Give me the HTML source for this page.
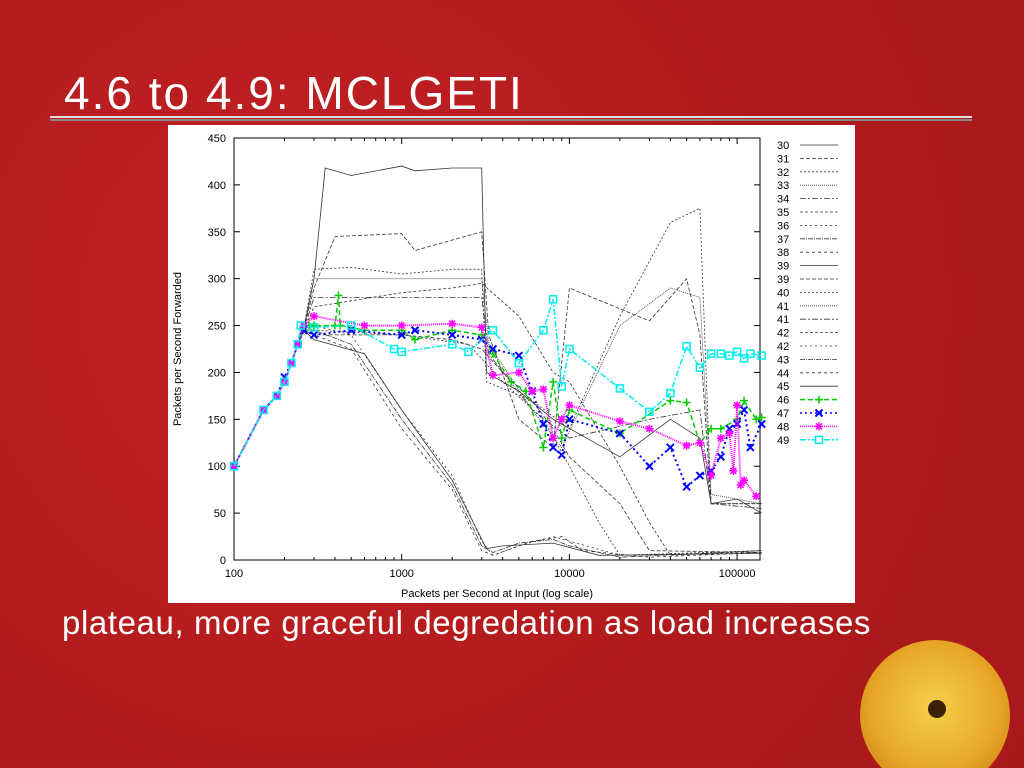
<!DOCTYPE html>
<html><head><meta charset="utf-8"><style>
html,body{margin:0;padding:0;width:1024px;height:768px;overflow:hidden}
body{position:relative;background:#b81c1e;
background-image:radial-gradient(circle at 30% 40%,#c42224 0,#b01a1c 60%,#a8181a 100%);}
.t{position:absolute;color:#fff;font-family:"Comic Sans MS","Liberation Sans",sans-serif;white-space:nowrap}
</style></head><body>
<div class="t" style="left:64px;top:66px;font-size:46px;letter-spacing:2px">4.6 to 4.9: MCLGETI</div>
<div style="position:absolute;left:50px;top:116px;width:922px;height:2px;background:#ddd;"></div>
<div style="position:absolute;left:50px;top:119px;width:922px;height:2px;background:#888;"></div>
<div class="t" style="left:62px;top:604px;font-size:33px;letter-spacing:0.6px">plateau, more graceful degredation as load increases</div>
<div style="position:absolute;left:0;top:0;width:1024px;height:768px;overflow:hidden">
<div style="position:absolute;left:860px;top:640px;width:150px;height:150px;border-radius:50%;background:radial-gradient(circle at 50% 45%,#f4d04a 0,#e8a828 55%,#c07010 100%)"></div>
<div style="position:absolute;left:928px;top:700px;width:18px;height:18px;border-radius:50%;background:#3a2208"></div>
</div>
<svg style="position:absolute;left:0;top:0" width="1024" height="768" id="s">
<rect x="168" y="125" width="687" height="478" fill="#fff"/>
<rect x="234" y="138" width="526" height="422" fill="none" stroke="#000" stroke-width="1"/>
<g id="g" font-family="Liberation Sans,sans-serif" font-size="11"></g>
</svg>
<script>
var g=document.getElementById('g'),NS='http://www.w3.org/2000/svg';
function px(x){return 234+(Math.log10(x)-2)*167.7}
function py(y){return 560-y*0.9378}
function el(t,a,txt){var e=document.createElementNS(NS,t);for(var k in a)e.setAttribute(k,a[k]);if(txt!=null)e.textContent=txt;g.appendChild(e);return e}
for(var y=0;y<=450;y+=50){el('line',{x1:234,x2:240,y1:py(y),y2:py(y),stroke:'#000'});el('line',{x1:754,x2:760,y1:py(y),y2:py(y),stroke:'#000'});el('text',{x:226,y:py(y)+4,'text-anchor':'end'},y)}
for(var d=2;d<=5;d++){for(var m=1;m<10;m++){var v=m*Math.pow(10,d);if(v>140000)break;var X=px(v),L=m==1?6:3;el('line',{x1:X,x2:X,y1:560,y2:560-L,stroke:'#000'});el('line',{x1:X,x2:X,y1:138,y2:138+L,stroke:'#000'})}
el('text',{x:px(Math.pow(10,d)),y:577,'text-anchor':'middle'},Math.pow(10,d))}
el('text',{x:497,y:597,'text-anchor':'middle'},'Packets per Second at Input (log scale)');
el('text',{x:181,y:349,'text-anchor':'middle',transform:'rotate(-90 181 349)'},'Packets per Second Forwarded');
function line(d,col,dash,w){var p=d.map(function(q){return px(q[0]).toFixed(1)+','+py(q[1]).toFixed(1)}).join(' ');el('polyline',{points:p,fill:'none',stroke:col,'stroke-width':w||1,'stroke-dasharray':dash||''})}
var base=[[100,100],[150,160],[180,175],[200,190],[220,210],[240,230],[260,245]];
var blk=[
 base.concat([[300,300],[350,418],[500,410],[1000,420],[1200,415],[2000,418],[3000,418],[3200,200],[5000,180],[8000,150],[20000,110],[40000,150],[60000,130],[70000,60],[100000,65],[140000,50]]),
 base.concat([[300,290],[400,345],[1000,348],[1200,330],[3000,350],[3300,240],[5000,150],[8000,120],[10000,290],[30000,255],[50000,300],[60000,240],[70000,60],[140000,60]]),
 base.concat([[300,310],[500,312],[1000,305],[2000,310],[3000,310],[3200,190],[6000,170],[10000,140],[20000,260],[40000,360],[60000,375],[70000,60],[140000,60]]),
 base.concat([[300,300],[1000,300],[3000,300],[3300,230],[6000,160],[9000,120],[20000,250],[40000,290],[60000,280],[70000,70],[140000,60]]),
 base.concat([[300,280],[1000,280],[3000,280],[3300,220],[6000,160],[10000,130],[30000,150],[60000,160],[70000,60],[140000,55]]),
 base.concat([[300,270],[1000,285],[2000,290],[3000,295],[5000,260],[8000,200],[10000,190],[20000,100],[30000,40],[40000,5],[140000,10]]),
 base.concat([[300,250],[500,240],[1000,160],[2000,90],[3000,20],[3500,5],[5000,15],[8000,25],[10000,20],[20000,5],[140000,8]]),
 base.concat([[300,245],[500,230],[1000,150],[2000,80],[3000,15],[3500,8],[5000,18],[8000,22],[10000,15],[20000,3],[140000,10]]),
 base.concat([[300,240],[500,225],[1000,140],[2000,75],[3000,10],[3500,5],[6000,20],[9000,25],[12000,10],[30000,3],[140000,8]]),
 base.concat([[300,235],[600,220],[1000,160],[2000,85],[3200,12],[4000,15],[8000,18],[15000,5],[140000,7]]),
 base.concat([[300,240],[1000,240],[2000,235],[3000,225],[4000,200],[6000,170],[8000,140],[10000,110],[20000,60],[30000,10],[140000,8]]),
 base.concat([[300,245],[1000,240],[2500,230],[4000,190],[7000,150],[10000,100],[15000,40],[20000,5],[140000,10]])];
var ds=['','4 2','2 2','1 1','6 2 2 2','3 2','2 3','5 1 1 1','3 3','','4 2','2 2'];
blk.forEach(function(d,i){line(d,'#333',ds[i],0.8)});
var G=[[100,100],[150,160],[180,175],[200,190],[220,210],[240,230],[260,245],[280,250],[300,250],[400,250],[420,282],[430,250],[600,245],[1000,245],[1200,235],[2000,245],[3000,240],[3500,220],[4500,190],[5500,180],[7000,120],[8000,190],[9000,130],[10000,160],[20000,135],[40000,170],[50000,168],[60000,125],[70000,140],[80000,140],[100000,150],[110000,170],[130000,150],[140000,152]];
var B=[[100,100],[150,160],[180,175],[200,195],[220,210],[240,230],[260,245],[300,240],[500,245],[1000,240],[1200,245],[2000,240],[3000,235],[3500,225],[5000,218],[6000,180],[7000,145],[8000,120],[9000,112],[10000,150],[20000,135],[30000,100],[40000,120],[50000,78],[60000,90],[70000,95],[80000,110],[90000,140],[100000,145],[110000,160],[120000,120],[140000,145]];
var M=[[100,100],[150,160],[180,175],[200,190],[220,210],[240,230],[260,250],[300,260],[600,250],[1000,250],[2000,252],[3000,248],[3500,197],[5000,200],[6000,180],[7000,182],[8000,130],[9000,150],[10000,165],[20000,148],[30000,140],[50000,122],[60000,125],[70000,90],[80000,130],[90000,135],[95000,95],[100000,165],[105000,80],[110000,85],[130000,68]];
var C=[[100,100],[150,160],[180,175],[200,190],[220,210],[240,230],[250,250],[300,248],[500,250],[900,225],[1000,222],[2000,230],[2500,222],[3500,245],[5000,210],[7000,245],[8000,278],[9000,185],[10000,225],[20000,183],[30000,158],[40000,178],[50000,228],[60000,205],[70000,220],[80000,220],[90000,218],[100000,222],[110000,215],[120000,220],[140000,218]];
function mk(d,col,t){d.forEach(function(q){var X=px(q[0]),Y=py(q[1]);
 if(t=='+'){el('path',{d:'M'+(X-4)+' '+Y+'h8M'+X+' '+(Y-4)+'v8',stroke:col,'stroke-width':1.5})}
 else if(t=='x'){el('path',{d:'M'+(X-3.5)+' '+(Y-3.5)+'l7 7M'+(X-3.5)+' '+(Y+3.5)+'l7 -7',stroke:col,'stroke-width':2})}
 else if(t=='*'){el('path',{d:'M'+(X-4)+' '+Y+'h8M'+X+' '+(Y-4)+'v8M'+(X-3)+' '+(Y-3)+'l6 6M'+(X-3)+' '+(Y+3)+'l6 -6',stroke:col,'stroke-width':1.5})}
 else el('rect',{x:X-3.5,y:Y-3.5,width:7,height:7,fill:'none',stroke:col,'stroke-width':1.5})})}
line(G,'#0c0','5 3',1.5);mk(G,'#0c0','+');
line(B,'#00f','2 3',2);mk(B,'#00f','x');
line(M,'#f0f','1 1',2);mk(M,'#f0f','*');
line(C,'#0ee','6 2 2 2',1.5);mk(C,'#0ee','s');
var labs=['30','31','32','33','34','35','36','37','38','39','39','40','41','41','42','42','43','44','45','46','47','48','49'];
var lds=['','4 2','2 2','1 1','6 2 2 2','3 2','2 3','5 1 1 1','3 3','','4 2','2 2','1 1','6 2 2 2','3 2','2 3','5 1 1 1','3 3',''];
labs.forEach(function(l,i){var Y=145+i*13.4;el('text',{x:777,y:Y+4},l);
 if(i<19)el('line',{x1:800,x2:838,y1:Y,y2:Y,stroke:'#333','stroke-dasharray':lds[i],'stroke-width':0.8});
 else{var cs=['#0c0','#00f','#f0f','#0ee'][i-19],tp=['+','x','*','s'][i-19],dd=['5 3','2 3','1 1','6 2 2 2'][i-19];
  el('line',{x1:800,x2:838,y1:Y,y2:Y,stroke:cs,'stroke-dasharray':dd,'stroke-width':1.5});
  var X=819;if(tp=='+')el('path',{d:'M'+(X-4)+' '+Y+'h8M'+X+' '+(Y-4)+'v8',stroke:cs,'stroke-width':1.5});
  else if(tp=='x')el('path',{d:'M'+(X-3.5)+' '+(Y-3.5)+'l7 7M'+(X-3.5)+' '+(Y+3.5)+'l7 -7',stroke:cs,'stroke-width':2});
  else if(tp=='*')el('path',{d:'M'+(X-4)+' '+Y+'h8M'+X+' '+(Y-4)+'v8M'+(X-3)+' '+(Y-3)+'l6 6M'+(X-3)+' '+(Y+3)+'l6 -6',stroke:cs,'stroke-width':1.5});
  else el('rect',{x:X-3.5,y:Y-3.5,width:7,height:7,fill:'#fff',stroke:cs,'stroke-width':1.5});}});
</script>
</body></html>
